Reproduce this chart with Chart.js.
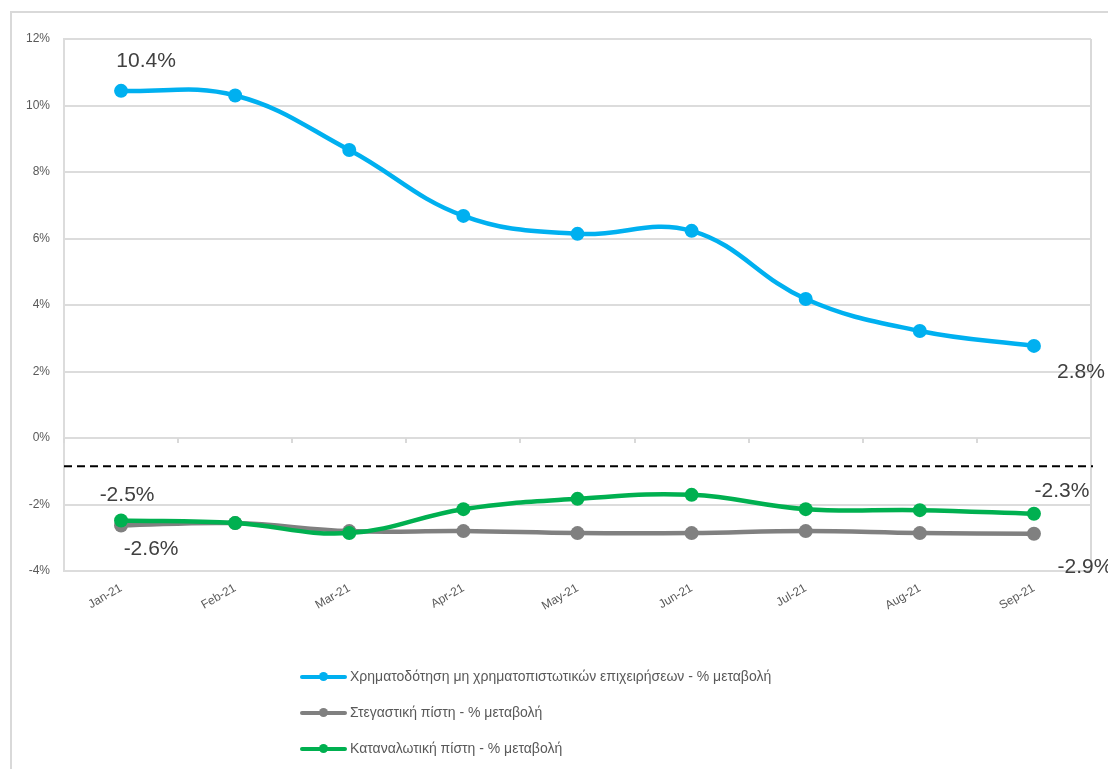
<!DOCTYPE html>
<html>
<head>
  <meta charset="utf-8">
  <title>credit growth 2021</title>
  <script src="https://cdn.jsdelivr.net/npm/chart.js"></script>
<style>
body{
	margin: 0;
	background: #ffffff;
	font-family: "Liberation Sans", Arial, sans-serif;
}
#frame{
	position: absolute;
	left: 10px;
	top: 11px;
	width: 1200px;
	height: 900px;
	border-left: 2px solid #d9d9d9;
	border-top: 2px solid #d9d9d9;
}
#creditChart{
	position: absolute;
	left: 0;
	top: 0;
}
#legend{
	position: absolute;
	left: 300px;
	top: 662px;
	color: #595959;
	font-size: 14px;
}
.item{
	height: 36px;
	line-height: 28px;
	white-space: nowrap;
}
.swatch{
	display: inline-block;
	position: relative;
	width: 47px;
	height: 4px;
	border-radius: 2px;
	vertical-align: middle;
	margin-right: 3px;
}
.swatch span{
	position: absolute;
	left: 19px;
	top: -3px;
	width: 9px;
	height: 9px;
	border-radius: 50%;
}
</style>
</head>
<body>
<div id="frame"></div>
<canvas id="creditChart" width="1108" height="769"></canvas>
<div id="legend"></div>

<script>
// months
var months = ["Jan-21","Feb-21","Mar-21","Apr-21","May-21","Jun-21","Jul-21","Aug-21","Sep-21"];

// % change
var businessLoans = [10.44, 10.3, 8.66, 6.68, 6.14, 6.23, 4.18, 3.22, 2.77];
var housingLoans  = [-2.63, -2.56, -2.8, -2.8, -2.86, -2.86, -2.8, -2.86, -2.88];
var consumerLoans = [-2.48, -2.56, -2.86, -2.14, -1.83, -1.71, -2.14, -2.17, -2.28];

var seriesNames = [
  "Χρηματοδότηση μη χρηματοπιστωτικών επιχειρήσεων - % μεταβολή",
  "Στεγαστική πίστη - % μεταβολή",
  "Καταναλωτική πίστη - % μεταβολή"
];
var seriesColors = ["#00b0f0", "#808080", "#00b050"];

// dashed reference line
var refLine = -0.85;

// y axis
var yMin = -4, yMax = 12, yStep = 2;

// where the value labels sit: [dataset, point, dx, dy]
var labelSpots = [
  [0, 0, 25, -30], [0, 8, 47, 26],
  [1, 0, 30, 24],  [1, 8, 51, 33],
  [2, 0, 6, -25],  [2, 8, 28, -23]
];

//draws the dashed line, the small ticks on the 0% line, right border and value labels
var extras = {
  id: "extras",
  beforeDatasetsDraw: function(chart){
    var ctx = chart.ctx, a = chart.chartArea;
    var y = chart.scales.y;
    ctx.save();
    // right border
    ctx.strokeStyle = "#d9d9d9";
    ctx.lineWidth = 2;
    ctx.beginPath();
    ctx.moveTo(a.right, a.top);
    ctx.lineTo(a.right, a.bottom);
    ctx.stroke();
    // ticks on zero line
    var y0 = y.getPixelForValue(0);
    var step = (a.right - a.left) / months.length;
    ctx.beginPath();
    for (var i = 0; i <= months.length; i++) {
      var px = Math.round(a.left + i * step);
      ctx.moveTo(px, y0);
      ctx.lineTo(px, y0 + 5);
    }
    ctx.stroke();
    // dashed line
    var yr = y.getPixelForValue(refLine);
    ctx.strokeStyle = "#000000";
    ctx.lineWidth = 2;
    ctx.setLineDash([8, 5]);
    ctx.beginPath();
    ctx.moveTo(a.left, yr);
    ctx.lineTo(a.right + 2, yr);
    ctx.stroke();
    ctx.restore();
  },
  afterDatasetsDraw: function(chart){
    var ctx = chart.ctx;
    ctx.save();
    ctx.font = "21px 'Liberation Sans', Arial, sans-serif";
    ctx.fillStyle = "#404040";
    ctx.textAlign = "center";
    ctx.textBaseline = "middle";
    labelSpots.forEach(function(s){
      var pt = chart.getDatasetMeta(s[0]).data[s[1]];
      var v = chart.data.datasets[s[0]].data[s[1]];
      ctx.fillText(v.toFixed(1) + "%", pt.x + s[2], pt.y + s[3]);
    });
    ctx.restore();
  }
};

var allSeries = [businessLoans, housingLoans, consumerLoans];
var drawOrder = [0, 2, 1];
var datasets = [];
for (var i = 0; i < allSeries.length; i++) {
  datasets.push({
    label: seriesNames[i],
    data: allSeries[i],
    borderColor: seriesColors[i],
    backgroundColor: seriesColors[i],
    borderWidth: 4.5,
    pointRadius: 7,
    pointHoverRadius: 7,
    pointBorderWidth: 0,
    tension: 0.4,
    order: drawOrder[i]
  });
}

var tickFont = { family: "'Liberation Sans', Arial, sans-serif", size: 12 };

new Chart(document.getElementById("creditChart").getContext("2d"), {
  type: "line",
  data: { labels: months, datasets: datasets },
  options: {
    responsive: false,
    animation: false,
    devicePixelRatio: 1,
    layout: { padding: { left: 0, top: 39, right: 17, bottom: 129 } },
    plugins: { legend: { display: false }, tooltip: { enabled: false } },
    scales: {
      x: {
        offset: true,
        grid: { display: false },
        border: { display: false },
        ticks: { color: "#595959", font: tickFont, minRotation: 30, maxRotation: 30, autoSkip: false, padding: 2 },
        afterFit: function(s){ s.height = 69; }
      },
      y: {
        min: yMin, max: yMax,
        grid: { color: "#dcdcdc", lineWidth: 2, drawTicks: false },
        border: { display: true, color: "#dcdcdc", width: 2 },
        ticks: { stepSize: yStep, color: "#595959", font: tickFont, padding: 14,
                 callback: function(v){ return v + "%"; } },
        afterFit: function(s){ s.width = 64; }
      }
    }
  },
  plugins: [extras]
});

//legend as a list under the chart
var legend = document.getElementById("legend");
for (var k = 0; k < seriesNames.length; k++) {
  var row = document.createElement("div");
  row.className = "item";
  var sw = document.createElement("span");
  sw.className = "swatch";
  sw.style.background = seriesColors[k];
  var dot = document.createElement("span");
  dot.style.background = seriesColors[k];
  sw.appendChild(dot);
  row.appendChild(sw);
  row.appendChild(document.createTextNode(seriesNames[k]));
  legend.appendChild(row);
}
</script>
</body>
</html>
